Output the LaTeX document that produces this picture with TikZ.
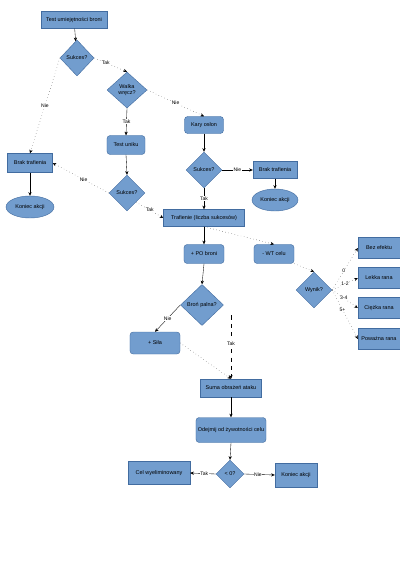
\documentclass[tikz,border=0pt]{standalone}
\usepackage{fontspec}
\setmainfont{Liberation Sans}
\usetikzlibrary{shapes.geometric,arrows.meta}

\definecolor{boxfill}{RGB}{114,157,206}
\definecolor{boxline}{RGB}{66,108,160}

\begin{document}
\begin{tikzpicture}[x=0.025cm,y=-0.025cm,
  every node/.append style={font=\fontsize{3.9}{4.6}\selectfont},
  box/.style={rectangle,draw=boxline,fill=boxfill,inner sep=0.5pt,line width=0.3pt},
  rbox/.style={box,rounded corners=0.8mm},
  decision/.style={diamond,draw=boxline,fill=boxfill,inner sep=0pt,line width=0.3pt,align=center},
  endell/.style={ellipse,draw=boxline,fill=boxfill,inner sep=0pt,line width=0.3pt},
  arr/.style={-{Stealth[length=0.9mm,width=0.8mm]},line width=0.25pt}
]

        \useasboundingbox (0,0) rectangle (400,565);

        % bloki
        \node[box,minimum width=16.5mm,minimum height=4.25mm] (test) at (74,20) {Test umiejętności broni};
        \node[decision,minimum width=8.5mm,minimum height=9mm] (suk1) at (77,58) {Sukces?};
        \node[decision,minimum width=10mm,minimum height=9mm] (walka) at (127,90) {Walka\\wręcz?};
        \node[rbox,minimum width=9.75mm,minimum height=4.25mm] (kary) at (204,125) {Kary osłon};
        \node[rbox,minimum width=9.5mm,minimum height=4.75mm] (unik) at (126,145) {Test uniku};
        \node[decision,minimum width=9mm,minimum height=9mm] (suk2) at (204,170) {Sukces?};
        \node[box,minimum width=11mm,minimum height=4.25mm] (brakR) at (275,170) {Brak trafienia};
        \node[endell,minimum width=11.5mm,minimum height=5.5mm] (endR) at (275,200) {Koniec akcji};
        \node[box,minimum width=11.25mm,minimum height=4.75mm] (brakL) at (30,163) {Brak trafienia};
        \node[endell,minimum width=12mm,minimum height=5.5mm] (endL) at (30,207) {Koniec akcji};
        \node[decision,minimum width=9mm,minimum height=9mm] (suk3) at (127,193) {Sukces?};
        \node[box,minimum width=20.25mm,minimum height=4.25mm] (traf) at (204,218) {Trafienie (liczba sukcesów)};
        \node[rbox,minimum width=10mm,minimum height=4.75mm] (po) at (204,254) {+ PO broni};
        \node[rbox,minimum width=10mm,minimum height=4.75mm] (wt) at (274,254) {- WT celu};
        \node[decision,minimum width=9mm,minimum height=9mm] (wynik) at (314,290) {Wynik?};

        % skutki
        \node[box,minimum width=10.5mm,minimum height=5.25mm] (bez) at (379,248) {Bez efektu};
        \node[box,minimum width=10.5mm,minimum height=5.25mm] (lekka) at (379,278) {Lekka rana};
        \node[box,minimum width=10.5mm,minimum height=5.25mm] (ciezka) at (379,308) {Ciężka rana};
        \node[box,minimum width=10.5mm,minimum height=5.25mm] (powazna) at (379,339) {Poważna rana};

        \node[decision,minimum width=10.75mm,minimum height=10.25mm] (palna) at (202,305) {Broń palna?};
        \node[rbox,minimum width=12.5mm,minimum height=5.5mm] (sila) at (155,343) {+ Siła};
        \node[box,minimum width=15.25mm,minimum height=4.5mm] (suma) at (231,388) {Suma obrażeń ataku};
        \node[rbox,minimum width=17.5mm,minimum height=6.25mm] (odejmij) at (231,430) {Odejmij od żywotności celu};
        \node[decision,minimum width=7mm,minimum height=7mm] (zero) at (230,474) {< 0?};
        \node[box,minimum width=15.5mm,minimum height=5.75mm] (cel) at (159,473) {Cel wyeliminowany};
        \node[box,minimum width=10.5mm,minimum height=6mm] (koniec) at (296,475) {Koniec akcji};

        % polaczenia
        \begin{scope}[every node/.style={fill=white,inner sep=0.4pt,font=\fontsize{3.6}{4}\selectfont}]
          \draw[arr] (test) -- (suk1);
          \draw[arr,dotted] (suk1.east) -- node[pos=0.35] {Tak} (walka.north);
          \draw[arr,dotted] (suk1.west) -- node[pos=0.5] {Nie} (brakL.north);
          \draw[arr,dotted] (walka.east) -- node[pos=0.5] {Nie} (kary.north);
          \draw[arr] (walka.south) -- node[pos=0.5] {Tak} (unik.north);
          \draw[arr] (kary.south) -- (suk2.north);
          \draw[arr] (suk2.east) -- node[pos=0.5] {Nie} (brakR.west);
          \draw[arr] (brakR.south) -- (endR.north);
          \draw[arr] (suk2.south) -- node[pos=0.5] {Tak} (traf.north);
          \draw[arr] (unik.south) -- (suk3.north);
          \draw[arr,dotted] (suk3.west) -- node[pos=0.45] {Nie} (brakL.east);
          \draw[arr,dotted] (suk3.south east) -- node[pos=0.5] {Tak} (traf.west);
          \draw[arr] (brakL.south) -- (endL.north);
          \draw[arr] (traf.south) -- (po.north);
          \draw[arr,dotted] (traf.south) -- (wt.north);
          \draw[arr,dotted] (wt.south east) -- (wynik.north);
          \draw[arr,dotted] (wynik.east) -- node[pos=0.45] {0} (bez.west);
          \draw[arr,dotted] (wynik.east) -- node[pos=0.5] {1-2} (lekka.west);
          \draw[arr,dotted] (wynik.east) -- node[pos=0.45] {3-4} (ciezka.west);
          \draw[arr,dotted] (wynik.east) -- node[pos=0.4] {5+} (powazna.west);
          \draw[arr] (po.south) -- (palna.north);
          \draw[arr] (palna.west) -- node[pos=0.5] {Nie} (sila.north);
          \draw[arr,dashed] (suma.north |- palna.south east) -- node[pos=0.45] {Tak} (suma.north);
          \draw[arr,dotted] (sila.east) -- (suma.north);
          \draw[arr] (suma.south) -- (odejmij.north);
          \draw[arr] (odejmij.south) -- (zero.north);
          \draw[arr] (zero.west) -- node[pos=0.45] {Tak} (cel.east);
          \draw[arr] (zero.east) -- node[pos=0.45] {Nie} (koniec.west);
        \end{scope}

      \end{tikzpicture}
\end{document}
